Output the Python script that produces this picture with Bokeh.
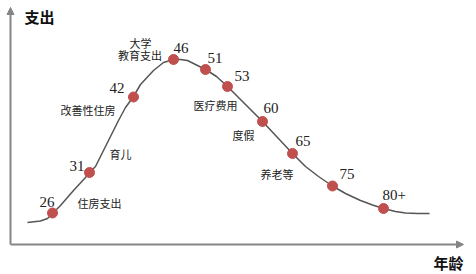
from bokeh.plotting import figure
from bokeh.models import Range1d, Arrow, NormalHead, ColumnDataSource
from bokeh.core.properties import value
from bokeh.embed import file_html
from bokeh.resources import INLINE

# curve path (x = age position, y = spending position, screen-like units, y down)
curve_x = [27, 40, 47, 52, 60, 73, 85, 89, 95, 102, 108, 118, 125, 133, 140, 153, 163, 173, 180, 187, 197, 205, 216, 227, 240, 250, 262, 277, 292, 305, 318, 332, 345, 360, 372, 383, 395, 405, 417, 429]
curve_y = [222, 220.5, 218, 213, 205, 190, 177, 172, 166, 152, 140, 120, 107, 96, 84, 70, 62, 59, 59, 60, 65, 69, 76, 86, 99, 109, 121, 137, 153, 166, 176, 185.5, 193, 200, 204.5, 208, 211, 212.5, 213, 213]

# age markers
ages = ["26", "31", "42", "46", "51", "53", "60", "65", "75", "80+"]
age_x = [52, 89, 133, 173, 205, 227, 262, 292, 332, 383]
age_y = [212.5, 172, 96.5, 59, 69, 86, 121, 153, 185.5, 208]
age_lbl_x = [39, 69, 109, 173, 207, 234, 263, 295, 339, 382]
age_lbl_y = [201, 165, 87, 47, 57, 75, 107, 140, 173, 194]

# spending items
items = ["住房支出", "育儿", "改善性住房", "大学", "教育支出", "医疗费用", "度假", "养老等"]
item_x = [77, 109, 60, 140, 139.5, 193, 232, 260]
item_y = [202, 153, 109, 42, 54, 104, 134, 173]
item_align = ["left", "left", "left", "center", "center", "left", "left", "left"]

p = figure(width=476, height=274, output_backend="svg", toolbar_location=None,
           x_range=Range1d(0, 476), y_range=Range1d(274, 0), min_border=0)
p.axis.visible = False
p.grid.visible = False
p.outline_line_color = None
p.background_fill_color = "white"
p.border_fill_color = "white"

axis_col = "#858585"
p.add_layout(Arrow(end=NormalHead(size=7, line_color=axis_col, fill_color=axis_col),
                   x_start=10, y_start=244, x_end=10, y_end=7,
                   line_color=axis_col, line_width=2))
p.add_layout(Arrow(end=NormalHead(size=7, line_color=axis_col, fill_color=axis_col),
                   x_start=10, y_start=244, x_end=463, y_end=244,
                   line_color=axis_col, line_width=2))

p.text(x=[24], y=[16], text=["支出"], text_font=value("Noto Sans CJK SC"),
       text_font_size="15px", text_font_style="bold", text_baseline="middle",
       text_align="left", text_color="#111111")
p.text(x=[433], y=[262], text=["年龄"], text_font=value("Noto Sans CJK SC"),
       text_font_size="15px", text_font_style="bold", text_baseline="middle",
       text_align="left", text_color="#111111")

p.line(curve_x, curve_y, line_color="#555555", line_width=1.5)
p.scatter(age_x, age_y, size=10, fill_color="#C0504D", line_color="#C0504D")

p.text(x=age_lbl_x, y=age_lbl_y, text=ages, text_font=value("Liberation Serif"),
       text_font_size="15px", text_baseline="middle", text_align="left",
       text_color="#222222")

src = ColumnDataSource(dict(x=item_x, y=item_y, t=items, a=item_align))
p.text(x="x", y="y", text="t", text_align="a", source=src,
       text_font=value("Noto Sans CJK SC"), text_font_size="11px",
       text_baseline="middle", text_color="#222222")

open("out.html", "w").write(file_html(p, INLINE))
